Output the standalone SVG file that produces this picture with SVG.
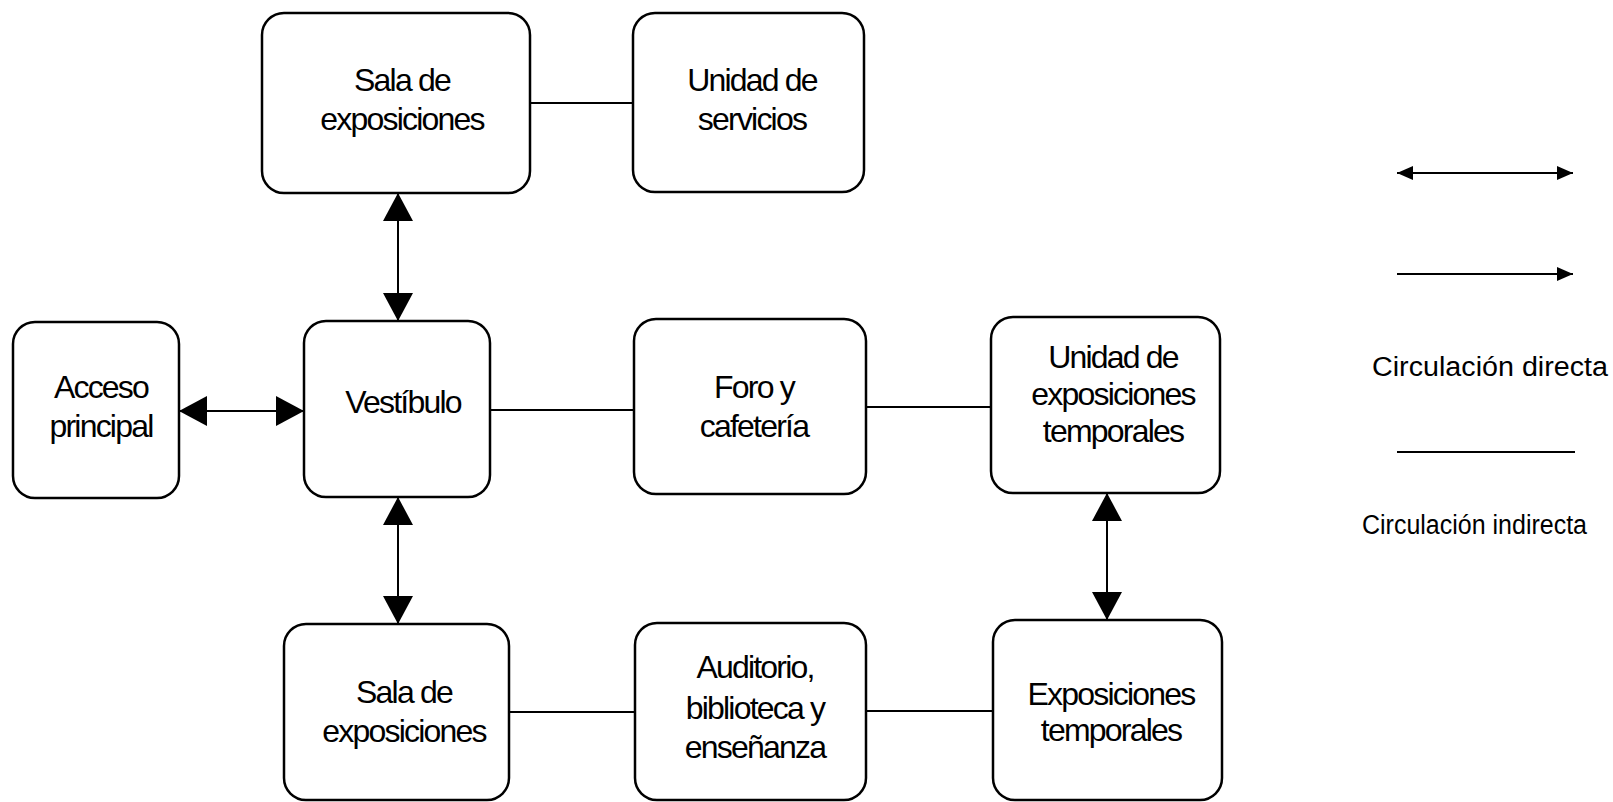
<svg xmlns="http://www.w3.org/2000/svg" width="1613" height="802" viewBox="0 0 1613 802">
<style>
  .box { fill: #ffffff; stroke: #000000; stroke-width: 2.5; }
  .lbl { font-family: "Liberation Sans", Arial, sans-serif; font-size: 32px; letter-spacing: -1.8px; text-anchor: middle; fill: #000000; }
  .leg { font-family: "Liberation Sans", Arial, sans-serif; font-size: 27px; fill: #000000; }
  .ln { stroke: #000000; stroke-width: 2; fill: none; }
  .arr { stroke: #000000; stroke-width: 2; fill: none; marker-start: url(#big); marker-end: url(#big); }
</style>
<defs>
  <marker id="big" markerUnits="userSpaceOnUse" markerWidth="30" markerHeight="32" refX="28" refY="15" orient="auto-start-reverse">
    <path d="M0,0 L28,15 L0,30 Z" fill="#000000"/>
  </marker>
  <marker id="small" markerUnits="userSpaceOnUse" markerWidth="18" markerHeight="16" refX="16" refY="7" orient="auto-start-reverse">
    <path d="M0,0 L16,7 L0,14 Z" fill="#000000"/>
  </marker>
</defs>
<rect width="1613" height="802" fill="#ffffff"/>

<g id="connectors">
  <line class="ln" x1="530" y1="103" x2="633" y2="103"/>
  <line class="arr" x1="398" y1="193" x2="398" y2="321"/>
  <line class="arr" x1="179" y1="411" x2="304" y2="411"/>
  <line class="ln" x1="490" y1="410" x2="634" y2="410"/>
  <line class="ln" x1="866" y1="407" x2="991" y2="407"/>
  <line class="arr" x1="398" y1="497" x2="398" y2="624"/>
  <line class="arr" x1="1107" y1="493" x2="1107" y2="620"/>
  <line class="ln" x1="509" y1="712" x2="635" y2="712"/>
  <line class="ln" x1="866" y1="711" x2="993" y2="711"/>
</g>

<g id="sala-expo-top">
  <rect class="box" x="262" y="13" width="268" height="180" rx="22"/>
  <text class="lbl" x="402" y="91">Sala de</text>
  <text class="lbl" x="402" y="130">exposiciones</text>
</g>
<g id="unidad-servicios">
  <rect class="box" x="633" y="13" width="231" height="179" rx="22"/>
  <text class="lbl" x="752" y="91">Unidad de</text>
  <text class="lbl" x="752" y="130">servicios</text>
</g>
<g id="acceso-principal">
  <rect class="box" x="13" y="322" width="166" height="176" rx="22"/>
  <text class="lbl" x="101" y="398">Acceso</text>
  <text class="lbl" x="101" y="437">principal</text>
</g>
<g id="vestibulo">
  <rect class="box" x="304" y="321" width="186" height="176" rx="22"/>
  <text class="lbl" x="403" y="413">Vestíbulo</text>
</g>
<g id="foro-cafeteria">
  <rect class="box" x="634" y="319" width="232" height="175" rx="22"/>
  <text class="lbl" x="754" y="398">Foro y</text>
  <text class="lbl" x="754" y="437">cafetería</text>
</g>
<g id="unidad-expo-temporales">
  <rect class="box" x="991" y="317" width="229" height="176" rx="22"/>
  <text class="lbl" x="1113" y="368">Unidad de</text>
  <text class="lbl" x="1113" y="405">exposiciones</text>
  <text class="lbl" x="1113" y="442">temporales</text>
</g>
<g id="sala-expo-bottom">
  <rect class="box" x="284" y="624" width="225" height="176" rx="22"/>
  <text class="lbl" x="404" y="703">Sala de</text>
  <text class="lbl" x="404" y="742">exposiciones</text>
</g>
<g id="auditorio">
  <rect class="box" x="635" y="623" width="231" height="177" rx="22"/>
  <text class="lbl" x="755" y="678">Auditorio,</text>
  <text class="lbl" x="755" y="719">biblioteca y</text>
  <text class="lbl" x="755" y="758">enseñanza</text>
</g>
<g id="expo-temporales">
  <rect class="box" x="993" y="620" width="229" height="180" rx="22"/>
  <text class="lbl" x="1111" y="705">Exposiciones</text>
  <text class="lbl" x="1111" y="741">temporales</text>
</g>

<g id="legend">
  <line class="ln" x1="1397" y1="173" x2="1573" y2="173" marker-start="url(#small)" marker-end="url(#small)"/>
  <line class="ln" x1="1397" y1="274" x2="1573" y2="274" marker-end="url(#small)"/>
  <text class="leg" x="1372" y="376" textLength="236" lengthAdjust="spacingAndGlyphs">Circulación directa</text>
  <line class="ln" x1="1397" y1="452" x2="1575" y2="452"/>
  <text class="leg" x="1362" y="534" textLength="225" lengthAdjust="spacingAndGlyphs">Circulación indirecta</text>
</g>
</svg>
